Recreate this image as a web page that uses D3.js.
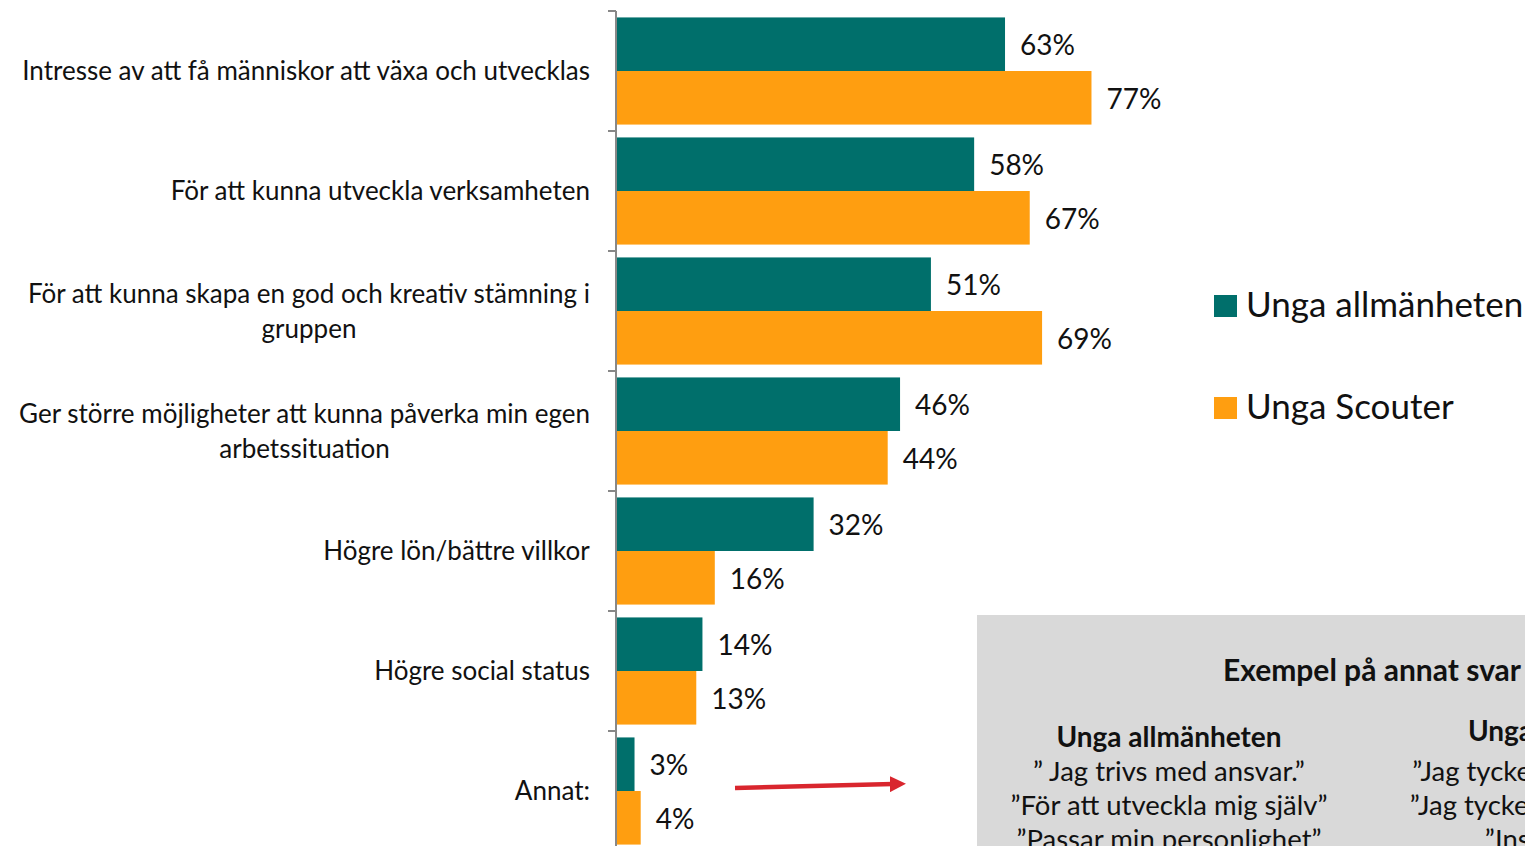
<!DOCTYPE html>
<html>
<head>
<meta charset="utf-8">
<script src="https://cdn.jsdelivr.net/npm/d3@7"></script>
<style>
  html, body { margin: 0; padding: 0; background: #fff; overflow: hidden; }
  svg { display: block; font-family: Lato, "Open Sans", sans-serif; }
</style>
</head>
<body>
<svg id="chart" width="1525" height="846"></svg>
<script>
  "use strict";

  // data
  var categories = [
    ["Intresse av att få människor att växa och utvecklas"],
    ["För att kunna utveckla verksamheten"],
    ["För att kunna skapa en god och kreativ stämning i", "gruppen"],
    ["Ger större möjligheter att kunna påverka min egen", "arbetssituation"],
    ["Högre lön/bättre villkor"],
    ["Högre social status"],
    ["Annat:"]
  ];
  var seriesNames = ["Unga allmänheten", "Unga Scouter"];
  var allmanheten = [63, 58, 51, 46, 32, 14, 3];
  var scouter = [77, 67, 69, 44, 16, 13, 4];
  var colors = ["#006f6b", "#ff9e10"];

  var boxTitle = "Exempel på annat svar";
  var quotesAllm = ["” Jag trivs med ansvar.”", "”För att utveckla mig själv”", "”Passar min personlighet”"];
  var quotesScout = ["”Jag tycker om att leda”", "”Jag tycker det är roligt”", "”Inspirerar”"];

  var svg = d3.select("#chart");
  var ids = d3.range(categories.length);

  var x = d3.scaleLinear().domain([0, 100]).range([616, 1233.5]);
  var y = d3.scaleBand().domain(ids).range([11, 851]);
  var y1 = d3.scaleBand().domain([0, 1]).range([0, y.bandwidth()]).paddingOuter(0.12);

  // gray annotation box (behind the chart)
  var box = svg.append("g");
  box.append("rect")
    .attr("x", 977).attr("y", 615)
    .attr("width", 600).attr("height", 300)
    .attr("fill", "#d9d9d9");
  box.append("text")
    .attr("x", 1372).attr("y", 681)
    .attr("text-anchor", "middle")
    .attr("font-size", 30).attr("font-weight", 700).attr("fill", "#111")
    .text(boxTitle);

  function quoteCol(cx, top, head, lines) {
    box.append("text")
      .attr("x", cx).attr("y", top)
      .attr("text-anchor", "middle")
      .attr("font-size", 28).attr("font-weight", 700).attr("fill", "#111")
      .text(head);
    lines.forEach(function(l, i) {
      box.append("text")
        .attr("x", cx).attr("y", 781 + i * 34)
        .attr("text-anchor", "middle")
        .attr("font-size", 27.5).attr("fill", "#111")
        .text(l);
    });
  }
  quoteCol(1169, 747, seriesNames[0], quotesAllm);
  quoteCol(1552, 741, seriesNames[1], quotesScout);

  // bars
  var groups = svg.append("g").selectAll("g")
    .data(ids)
    .join("g")
    .attr("transform", function(i) { return "translate(0," + y(i) + ")"; });

  var pairs = function(i) {
    return [allmanheten[i], scouter[i]].map(function(v, s) { return { s: s, v: v }; });
  };

  groups.selectAll("rect")
    .data(pairs)
    .join("rect")
    .attr("x", x(0))
    .attr("y", function(d) { return y1(d.s); })
    .attr("width", function(d) { return x(d.v) - x(0); })
    .attr("height", y1.bandwidth())
    .attr("fill", function(d) { return colors[d.s]; });

  groups.selectAll("text.val")
    .data(pairs)
    .join("text")
    .attr("class", "val")
    .attr("x", function(d) { return x(d.v) + 15; })
    .attr("y", function(d) { return y1(d.s) + y1.bandwidth() / 2 + 1; })
    .attr("dy", "0.35em")
    .attr("font-size", 28)
    .attr("fill", "#111")
    .text(function(d) { return d.v + "%"; });

  // category labels, centred block right-aligned at 590
  groups.each(function(i) {
    var g = d3.select(this);
    var lines = categories[i];
    var t = g.append("text")
      .attr("font-size", 26)
      .attr("fill", "#111")
      .attr("text-anchor", "middle");
    lines.forEach(function(l, k) {
      t.append("tspan")
        .attr("x", 0)
        .attr("y", y.bandwidth() / 2 + (k - (lines.length - 1) / 2) * 35)
        .attr("dy", "0.35em")
        .text(l);
    });
    var w = t.node().getBBox().width;
    t.selectAll("tspan").attr("x", 590 - w / 2);
  });

  // axis line with ticks at band edges
  var axis = svg.append("g").attr("stroke", "#888").attr("stroke-width", 2);
  axis.append("line")
    .attr("x1", x(0)).attr("x2", x(0))
    .attr("y1", y.range()[0]).attr("y2", y.range()[1]);
  axis.selectAll("line.tick")
    .data(ids.concat([ids.length]))
    .join("line")
    .attr("class", "tick")
    .attr("x1", x(0) - 8).attr("x2", x(0))
    .attr("y1", function(i) { return y.range()[0] + i * y.step(); })
    .attr("y2", function(i) { return y.range()[0] + i * y.step(); });

  // legend
  var legend = svg.append("g").selectAll("g")
    .data(seriesNames)
    .join("g")
    .attr("transform", function(d, i) { return "translate(1214," + (295 + i * 102) + ")"; });
  legend.append("rect")
    .attr("width", 23).attr("height", 22)
    .attr("fill", function(d, i) { return colors[i]; });
  legend.append("text")
    .attr("x", 32).attr("y", 10).attr("dy", "0.35em")
    .attr("font-size", 35).attr("fill", "#111")
    .text(function(d) { return d; });

  // red arrow pointing to the box
  var defs = svg.append("defs");
  defs.append("marker")
    .attr("id", "arrow")
    .attr("viewBox", "0 0 10 10")
    .attr("refX", 2).attr("refY", 5)
    .attr("markerWidth", 3.6).attr("markerHeight", 3.6)
    .attr("orient", "auto")
    .append("path")
    .attr("d", "M0,0L10,5L0,10Z")
    .attr("fill", "#d9262e");
  var ay = y(6) + y.bandwidth() / 2;
  svg.append("line")
    .attr("x1", 735).attr("y1", ay - 3)
    .attr("x2", 893).attr("y2", ay - 7)
    .attr("stroke", "#d9262e")
    .attr("stroke-width", 4.5)
    .attr("marker-end", "url(#arrow)");
</script>
</body>
</html>
